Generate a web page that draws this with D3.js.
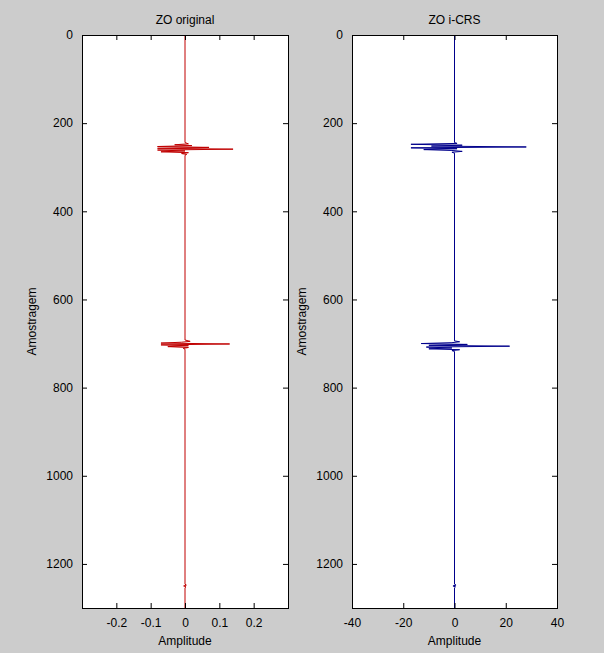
<!DOCTYPE html>
<html><head><meta charset="utf-8">
<script src="https://cdn.jsdelivr.net/npm/d3@7"></script>
<style>
html,body{margin:0;padding:0;background:#cccccc;}
svg{display:block;}
text{font-family:"Liberation Sans",Arial,sans-serif;font-size:12px;fill:#000;}
</style></head>
<body>
<svg id="chart" width="604" height="653"></svg>
<script>
// ---- data ----
const titles = ["ZO original", "ZO i-CRS"];
const yTicks = [0, 200, 400, 600, 800, 1000, 1200];
const xTicksLeft = [-0.2, -0.1, 0, 0.1, 0.2];
const xTicksRight = [-40, -20, 0, 20, 40];
const xDomainLeft = [-0.3, 0.3];
const xDomainRight = [-40, 40];
const yDomain = [0, 1300];

const leftSamples = [0, 244, 247, 249, 251, 253, 255, 257, 259, 261, 263, 265, 267, 269, 271, 273,
  692, 695, 697, 699, 701, 703, 705, 707, 709, 711, 713, 1246, 1248, 1250, 1252, 1254, 1300];
const leftAmp = [0, 0, 0.01, -0.03, 0.02, -0.08, 0.07, -0.08, 0.14, -0.08, 0.0, -0.07, 0.01, -0.01, 0.005, 0,
  0, 0.015, -0.01, -0.07, 0.13, -0.07, 0.01, -0.05, 0.01, -0.005, 0, 0, 0.004, -0.004, 0.003, 0, 0];

const rightSamples = [0, 244, 246, 248, 250, 252, 254, 256, 258, 260, 262, 264, 266, 268,
  694, 696, 698, 700, 702, 704, 706, 708, 710, 712, 714, 716, 718, 1246, 1248, 1250, 1252, 1254, 1300];
const rightAmp = [0, 0, 1, -17, 3, -9, 28, -17, 1, -12, -1, 3, -1, 0,
  0, 2, -1, -13, 5, -10, 21.5, -11, -1, -10, 2, -1, 0, 0, 0.6, -0.6, 0.4, 0, 0];

// ---- layout ----
const svg = d3.select("#chart");
const panels = [
  {x0: 82, x1: 288, title: titles[0], ticks: xTicksLeft, domain: xDomainLeft, s: leftSamples, a: leftAmp, color: "#c00000", fmt: d => d === 0 ? "0" : String(d)},
  {x0: 352, x1: 557, title: titles[1], ticks: xTicksRight, domain: xDomainRight, s: rightSamples, a: rightAmp, color: "#00008b", fmt: d => String(d)}
];
const y0 = 35, y1 = 608;

panels.forEach(p => {
  const x = d3.scaleLinear().domain(p.domain).range([p.x0, p.x1]);
  const y = d3.scaleLinear().domain(yDomain).range([y0, y1]);
  const g = svg.append("g");
  g.append("rect").attr("x", p.x0).attr("y", y0).attr("width", p.x1 - p.x0).attr("height", y1 - y0)
    .attr("fill", "#fff");

  const pts = p.s.map((d, i) => [p.a[i], d]);
  g.append("path").datum(pts)
    .attr("fill", "none").attr("stroke", p.color).attr("stroke-width", 1)
    .attr("d", d3.line().x(d => x(d[0])).y(d => y(d[1])));

  // axes (MATLAB-like inward ticks)
  const tl = 5;
  const xb = g.append("g").attr("transform", `translate(0,${y1})`)
    .call(d3.axisBottom(x).tickValues(p.ticks).tickSizeInner(-tl).tickSizeOuter(0).tickPadding(10).tickFormat(p.fmt));
  const xt = g.append("g").attr("transform", `translate(0,${y0})`)
    .call(d3.axisTop(x).tickValues(p.ticks).tickSizeInner(-tl).tickSizeOuter(0).tickFormat(""));
  const yl = g.append("g").attr("transform", `translate(${p.x0},0)`)
    .call(d3.axisLeft(y).tickValues(yTicks).tickSizeInner(-tl).tickSizeOuter(0).tickPadding(9).tickFormat(d => String(d)));
  const yr = g.append("g").attr("transform", `translate(${p.x1},0)`)
    .call(d3.axisRight(y).tickValues(yTicks).tickSizeInner(-tl).tickSizeOuter(0).tickFormat(""));
  [xb, xt, yl, yr].forEach(a => {
    a.select(".domain").remove();
    a.selectAll("line").attr("stroke", "#000");
    a.selectAll("text").attr("font-size", 12.5).attr("font-family", "Liberation Sans, Arial, sans-serif").attr("fill", "#000");
  });
  g.append("rect").attr("x", p.x0 + 0.5).attr("y", y0 + 0.5).attr("width", p.x1 - p.x0).attr("height", y1 - y0)
    .attr("fill", "none").attr("stroke", "#000").attr("stroke-width", 1);

  g.append("text").attr("x", (p.x0 + p.x1) / 2).attr("y", 24).attr("text-anchor", "middle").attr("font-size", 12.5).text(p.title);
  g.append("text").attr("x", (p.x0 + p.x1) / 2).attr("y", 645).attr("text-anchor", "middle").attr("font-size", 12.5).text("Amplitude");
  g.append("text").attr("transform", `translate(${p.x0 - 46},${(y0 + y1) / 2}) rotate(-90)`)
    .attr("text-anchor", "middle").attr("font-size", 12.5).text("Amostragem");
});
</script>
</body></html>
